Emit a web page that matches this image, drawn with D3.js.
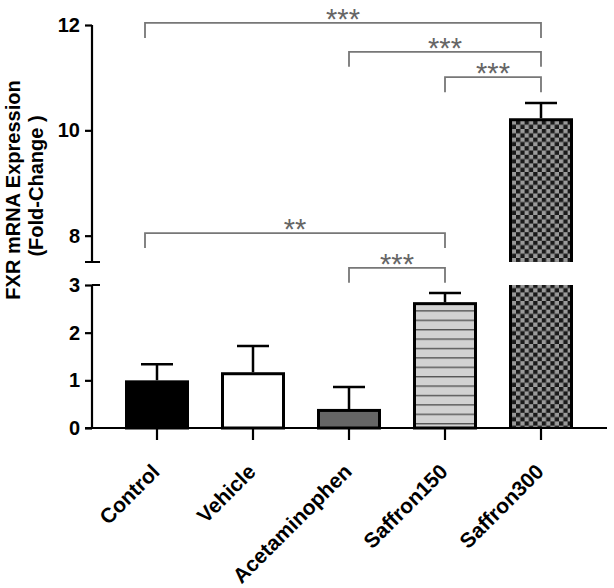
<!DOCTYPE html>
<html><head><meta charset="utf-8">
<script src="https://cdn.jsdelivr.net/npm/d3@7"></script>
<style>body{margin:0;background:#fff}svg{display:block}text{font-family:"Liberation Sans",Arial,sans-serif}</style>
</head><body>
<svg id="c" width="614" height="588"></svg>
<script>
const categories = ["Control","Vehicle","Acetaminophen","Saffron150","Saffron300"];
const means = [1.0, 1.17, 0.40, 2.64, 10.23];
const errs = [1.34, 1.72, 0.86, 2.83, 10.52];
const lowTicks = [0,1,2,3];
const highTicks = [8,10,12];
const comparisons = [
  {a:"Control", b:"Saffron300", label:"***", level:12.04},
  {a:"Acetaminophen", b:"Saffron300", label:"***", level:11.49},
  {a:"Saffron150", b:"Saffron300", label:"***", level:11.01},
  {a:"Control", b:"Saffron150", label:"**", level:8.05},
  {a:"Acetaminophen", b:"Saffron150", label:"***", level:7.39}
];

const svg = d3.select("#c");
const x = d3.scaleBand().domain(categories).range([109,589]).paddingInner(1/3).paddingOuter(1/6);
const yLow = d3.scaleLinear().domain([0,3]).range([428,285]);
const yHigh = d3.scaleLinear().domain([7.5,12]).range([262,25]);
const yv = v => v <= 3 ? yLow(v) : yHigh(v);

const defs = svg.append("defs");
const stripes = defs.append("pattern").attr("id","stripes").attr("patternUnits","userSpaceOnUse")
  .attr("width",10).attr("height",9.4);
stripes.append("rect").attr("width",10).attr("height",9.4).attr("fill","#d2d2d2");
stripes.append("rect").attr("y",0).attr("width",10).attr("height",1.4).attr("fill","#555");
const checker = defs.append("pattern").attr("id","checker").attr("patternUnits","userSpaceOnUse")
  .attr("width",8.6).attr("height",8.6).attr("x",0).attr("y",0);
checker.append("rect").attr("width",8.6).attr("height",8.6).attr("fill","#9a9a9a");
checker.append("rect").attr("width",4.3).attr("height",4.3).attr("fill","#1a1a1a");
checker.append("rect").attr("x",4.3).attr("y",4.3).attr("width",4.3).attr("height",4.3).attr("fill","#1a1a1a");

const fills = ["#000","#fff","#666","url(#stripes)","url(#checker)"];
const bw = x.bandwidth();

// bars
categories.forEach((c,i)=>{
  const v = means[i], x0 = x(c);
  const g = svg.append("g");
  if (v <= 3) {
    g.append("rect").attr("x",x0+1.5).attr("y",yLow(v)+1.5).attr("width",bw-3).attr("height",yLow(0)-yLow(v)-1.5)
      .attr("fill",fills[i]).attr("stroke","#000").attr("stroke-width",3);
  } else {
    g.append("rect").attr("x",x0+1.5).attr("y",yLow(3)).attr("width",bw-3).attr("height",yLow(0)-yLow(3))
      .attr("fill",fills[i]);
    g.append("path").attr("d",`M${x0+1.5},${yLow(0)}V${yLow(3)}M${x0+bw-1.5},${yLow(0)}V${yLow(3)}`)
      .attr("stroke","#000").attr("stroke-width",3).attr("fill","none");
    g.append("rect").attr("x",x0+1.5).attr("y",yHigh(v)+1.5).attr("width",bw-3).attr("height",yHigh(7.5)-yHigh(v)-1.5)
      .attr("fill",fills[i]);
    g.append("path").attr("d",`M${x0+1.5},${yHigh(7.5)}V${yHigh(v)+1.5}H${x0+bw-1.5}V${yHigh(7.5)}`)
      .attr("stroke","#000").attr("stroke-width",3).attr("fill","none");
  }
  const cx = x0 + bw/2;
  g.append("path").attr("d",`M${cx},${yv(v)}V${yv(errs[i])}M${cx-16},${yv(errs[i])}H${cx+16}`)
    .attr("stroke","#000").attr("stroke-width",2.5).attr("fill","none");
});

// axes
const axisStyle = g => {
  g.selectAll("path,line").attr("stroke","#000").attr("stroke-width",2.2);
  g.selectAll("text").attr("font-size",20).attr("font-weight","bold").attr("fill","#000");
};
const yAxLow = d3.axisLeft(yLow).tickValues(lowTicks).tickSize(7).tickSizeOuter(0).tickFormat(d3.format("d"));
svg.append("g").attr("transform","translate(92,0)").call(yAxLow).call(axisStyle)
  .call(g=>g.select(".domain").attr("d",`M0,${yLow(0)}V${yLow(3)}`))
  .call(g=>g.selectAll("text").attr("x",-12));
const yAxHigh = d3.axisLeft(yHigh).tickValues(highTicks).tickSize(7).tickSizeOuter(0).tickFormat(d3.format("d"));
svg.append("g").attr("transform","translate(92,0)").call(yAxHigh).call(axisStyle)
  .call(g=>g.select(".domain").attr("d",`M0,${yHigh(7.5)}V${yHigh(12)}`))
  .call(g=>g.selectAll("text").attr("x",-12));
svg.append("path").attr("d",`M85,${yHigh(7.5)}H100M92,${yLow(3)}H100`).attr("stroke","#000").attr("stroke-width",2.2);

const xAx = d3.axisBottom(x).tickSize(12).tickSizeOuter(0);
svg.append("g").attr("transform",`translate(0,${yLow(0)})`).call(xAx).call(axisStyle)
  .call(g=>g.select(".domain").attr("d","M85,0H607"))
  .call(g=>g.selectAll("text").attr("font-size",21).attr("text-anchor","end").attr("dy",0).attr("y",0)
     .attr("transform","translate(4,45) rotate(-45)"));

// y title
svg.append("text").attr("transform","translate(20,190) rotate(-90)").attr("text-anchor","middle")
  .attr("font-size",20).attr("font-weight","bold").text("FXR mRNA Expression");
svg.append("text").attr("transform","translate(43,186) rotate(-90)").attr("text-anchor","middle")
  .attr("font-size",20).attr("font-weight","bold").text("(Fold-Change )");

// significance brackets
comparisons.forEach(cmp=>{
  const xa = x(cmp.a)+bw/2 - (cmp.a === categories[0] ? 12 : 0), xb = x(cmp.b)+bw/2;
  const yy = yHigh(cmp.level);
  svg.append("path").attr("d",`M${xa},${yy+15}V${yy}H${xb}V${yy+15}`)
    .attr("stroke","#777").attr("stroke-width",1.8).attr("fill","none");
  svg.append("text").attr("x",(xa+xb)/2).attr("y",yy+6).attr("text-anchor","middle")
    .attr("font-size",29).attr("fill","#666").text(cmp.label);
});
</script>
</body></html>
